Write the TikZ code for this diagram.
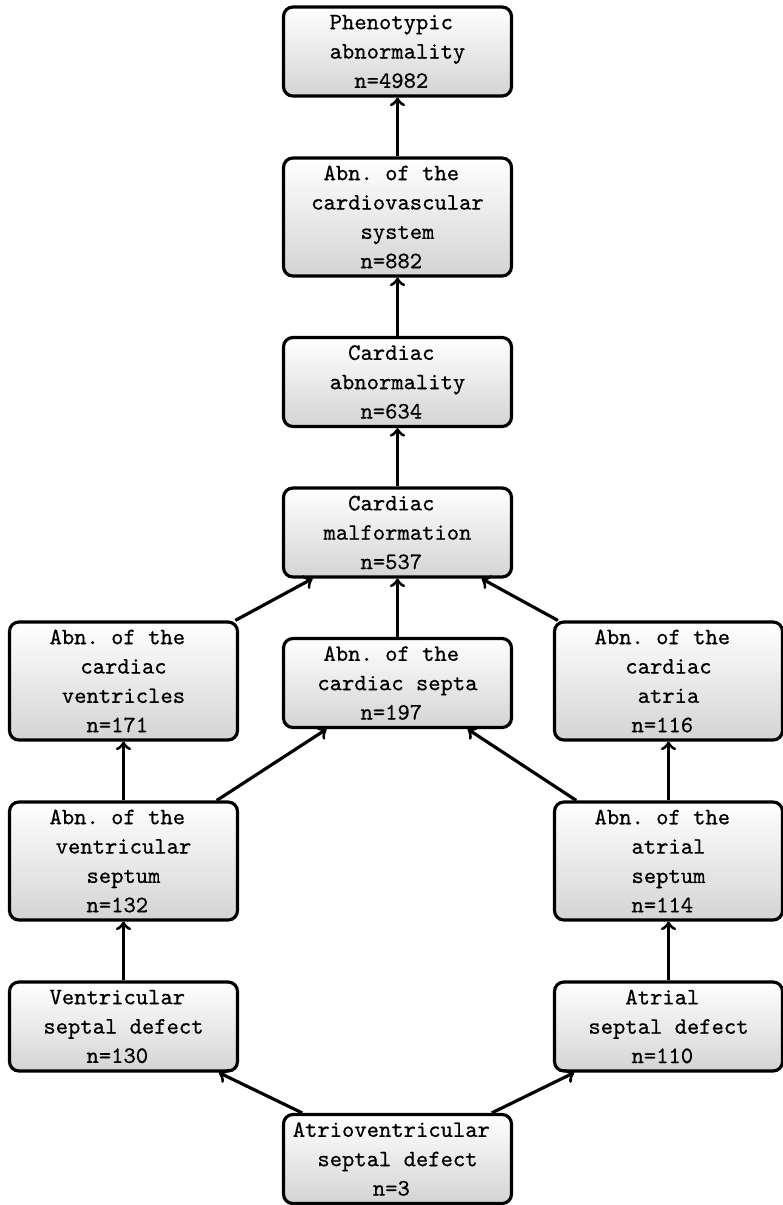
\documentclass[tikz,border=0pt]{standalone}
\usepackage{fontspec}
\usetikzlibrary{shadings}
% box lettering: Latin Modern Mono, slightly heavier
\newfontfamily\boxfont{lmmono10-regular.otf}[FakeBold=0.6]
% one drawing unit in points
\newcommand\pxu{0.426pt}
% trailing typewriter space after each line
\newcommand\ts{\hspace*{5.25pt}}
\tikzset{
  box/.style={draw, line width=1.35pt, rounded corners=4pt,
    top color=white, bottom color=black!17,
    align=center, inner sep=0pt,
    font=\boxfont\fontsize{10}{12.5}\selectfont\frenchspacing,
    minimum width=228*\pxu},
  shortbox/.style={box, minimum height=89*\pxu},
  tallbox/.style={box, minimum height=118*\pxu},
  link/.style={->, line width=1.35pt}
}
\begin{document}
\begin{tikzpicture}[x=0.426pt, y=-0.426pt]
\useasboundingbox (0,0) rectangle (783,1205);

% middle column
\node[shortbox] (pheno) at (397.5,51.5) {Phenotypic\ts\\abnormality\ts\\n=4982\ts};
\node[tallbox]  (cardio) at (397.5,217) {Abn. of the\ts\\cardiovascular\ts\\system\ts\\n=882\ts};
\node[shortbox] (cabn) at (397.5,382) {Cardiac\ts\\abnormality\ts\\n=634\ts};
\node[shortbox] (malf) at (397.5,532.5) {Cardiac\ts\\malformation\ts\\n=537\ts};
\node[shortbox] (septa) at (397.5,683) {Abn. of the\ts\\cardiac septa\ts\\n=197\ts};
\node[shortbox] (avsd) at (397.5,1159) {Atrioventricular\ts\\septal defect\ts\\n=3\ts};

% left column
\node[tallbox]  (vent) at (123.5,681) {Abn. of the\ts\\cardiac\ts\\ventricles\ts\\n=171\ts};
\node[tallbox]  (vsept) at (123.5,861) {Abn. of the\ts\\ventricular\ts\\septum\ts\\n=132\ts};
\node[shortbox] (vsd) at (123.5,1026.5) {Ventricular\ts\\septal defect\ts\\n=130\ts};

% right column
\node[tallbox]  (atria) at (668.5,681) {Abn. of the\ts\\cardiac\ts\\atria\ts\\n=116\ts};
\node[tallbox]  (asept) at (668.5,861) {Abn. of the\ts\\atrial\ts\\septum\ts\\n=114\ts};
\node[shortbox] (asd) at (668.5,1026.5) {Atrial\ts\\septal defect\ts\\n=110\ts};

% is-a links, child to parent
\draw[link] (cardio) -- (pheno);
\draw[link] (cabn) -- (cardio);
\draw[link] (malf) -- (cabn);
\draw[link] (vent) -- (malf);
\draw[link] (septa) -- (malf);
\draw[link] (atria) -- (malf);
\draw[link] (vsept) -- (vent);
\draw[link] (vsept) -- (septa);
\draw[link] (asept) -- (septa);
\draw[link] (asept) -- (atria);
\draw[link] (vsd) -- (vsept);
\draw[link] (asd) -- (asept);
\draw[link] (avsd) -- (vsd);
\draw[link] (avsd) -- (asd);
\end{tikzpicture}
\end{document}
